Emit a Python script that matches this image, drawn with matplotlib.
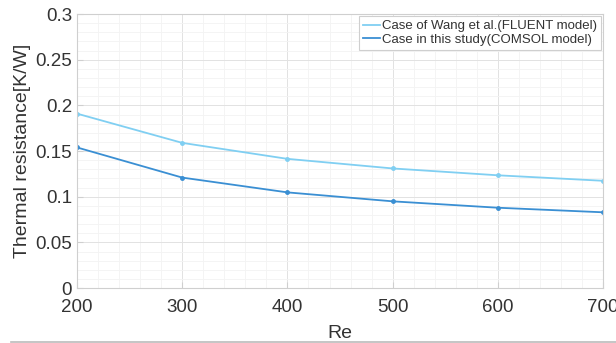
import matplotlib.pyplot as plt
import numpy as np
from matplotlib.ticker import AutoMinorLocator, MultipleLocator
from matplotlib.lines import Line2D

plt.rcParams['font.family'] = ['Liberation Sans', 'DejaVu Sans']

re = [200, 300, 400, 500, 600, 700]
r_fluent = [0.191, 0.159, 0.1415, 0.131, 0.1235, 0.1175]
r_comsol = [0.154, 0.121, 0.1048, 0.095, 0.088, 0.083]
labels = ['Case of Wang et al.(FLUENT model)', 'Case in this study(COMSOL model)']
colors = ['#80cff2', '#3a8fd3']

fig = plt.figure(figsize=(6.16, 3.43), dpi=100)
ax = fig.add_axes([0.125, 0.160, 0.854, 0.799])

for y, c in zip([r_fluent, r_comsol], colors):
    ax.plot(re, y, color=c, lw=1.3, marker='o', ms=2.5)

ax.set_xlim(200, 700)
ax.set_ylim(0, 0.3)
ax.xaxis.set_major_locator(MultipleLocator(100))
ax.set_yticks(np.arange(0, 0.31, 0.05))
ax.set_yticklabels(['0', '0.05', '0.1', '0.15', '0.2', '0.25', '0.3'])
ax.xaxis.set_minor_locator(AutoMinorLocator(5))
ax.yaxis.set_minor_locator(AutoMinorLocator(5))

ax.grid(which='major', color='#e2e2e2', lw=0.7)
ax.grid(which='minor', color='#f3f3f3', lw=0.6)
ax.set_axisbelow(True)
for s in ax.spines.values():
    s.set_color('#cfcfcf')
    s.set_linewidth(0.8)
ax.tick_params(which='both', direction='in', colors='#cfcfcf', labelcolor='#333333',
               labelsize=13.5, top=False, right=False)
ax.tick_params(which='minor', length=0)
ax.tick_params(which='major', length=4)
ax.tick_params(axis='x', pad=8)

ax.set_xlabel('Re', fontsize=14, color='#333333', labelpad=6)
ax.set_ylabel('Thermal resistance[K/W]', fontsize=14, color='#333333', labelpad=3)

# legend shows plain line samples
handles = [Line2D([], [], color=c, lw=1.3) for c in colors]
leg = ax.legend(handles, labels, loc='upper right', fontsize=9.5, handlelength=1.3,
                handletextpad=0.15, borderpad=0.3, labelspacing=0.1, fancybox=False,
                framealpha=1, borderaxespad=0.15)
leg.get_frame().set_edgecolor('#cfcfcf')
leg.get_frame().set_linewidth(0.8)
for t in leg.get_texts():
    t.set_color('#333333')

fig.add_artist(Line2D([0.018, 1.0], [0.003, 0.003], transform=fig.transFigure,
                      color='#bbbbbb', lw=1.2))

fig.savefig('out.png', dpi=100)
